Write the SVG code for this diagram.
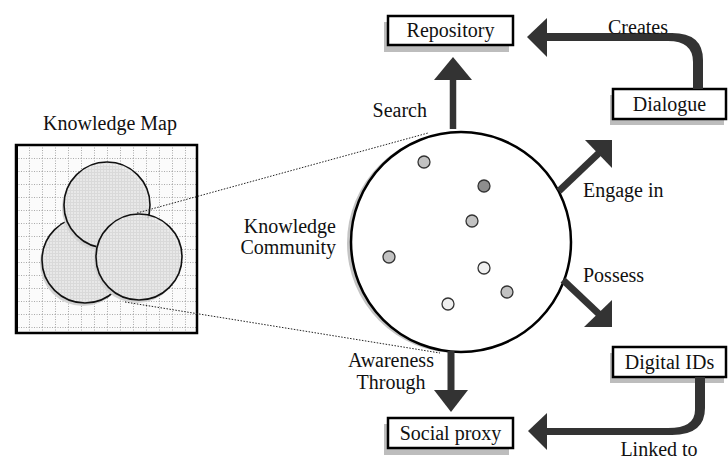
<svg xmlns="http://www.w3.org/2000/svg" width="728" height="459" viewBox="0 0 728 459" font-family="'Liberation Serif', 'Times New Roman', serif">
<style>
  text { font-family: "Liberation Serif", "Times New Roman", serif; font-size: 20px; fill: #111; }
  .box { fill: #fff; stroke: #000; stroke-width: 2.5; }
  .shadow { fill: #bdbdbd; }
  .shaft { stroke: #333; fill: none; }
  .head { fill: #333; }
  .dot { stroke: #333; stroke-width: 1.3; }
  .mapc { fill: url(#hatch); fill-opacity: 0.85; stroke: #111; stroke-width: 1.6; }
  .mapsh { fill: #d2d2d2; }
  .dotted { stroke: #222; stroke-width: 1; stroke-dasharray: 1.5 1.5; fill: none; }
</style>
<defs>
  <pattern id="grid" x="16" y="145" width="13" height="13" patternUnits="userSpaceOnUse">
    <rect width="13" height="13" fill="#fbfbfb"/>
    <path d="M0,0.5 H13 M0.5,0 V13" stroke="#aaa" stroke-width="1" stroke-dasharray="1 1.5"/>
  </pattern>
  <pattern id="hatch" width="3" height="3" patternUnits="userSpaceOnUse">
    <rect width="3" height="3" fill="#ececec"/>
    <path d="M0,1.5 H3 M1.5,0 V3" stroke="#dadada" stroke-width="1"/>
  </pattern>
</defs>

<g id="node-map">
  <text x="110" y="130" text-anchor="middle">Knowledge Map</text>
  <rect x="16" y="145" width="181" height="188" fill="url(#grid)" stroke="#000" stroke-width="2.5"/>
  <line x1="16.5" y1="145" x2="16.5" y2="333" stroke="#000" stroke-width="3"/>
  <circle class="mapsh" cx="83" cy="263" r="43"/>
  <circle class="mapc" cx="85" cy="260" r="43"/>
  <circle class="mapsh" cx="105" cy="208" r="43"/>
  <circle class="mapc" cx="107" cy="205" r="43"/>
  <circle class="mapsh" cx="137" cy="260" r="43"/>
  <circle class="mapc" cx="139" cy="257" r="43"/>
</g>

<g id="node-community">
  <circle cx="457" cy="243" r="110" fill="#c4c4c4"/>
  <circle cx="461" cy="242" r="110" fill="#fff" stroke="#000" stroke-width="2.5"/>
  <circle class="dot" cx="424" cy="162" r="6" fill="#c2c2c2"/>
  <circle class="dot" cx="484" cy="186" r="6" fill="#8e8e8e"/>
  <circle class="dot" cx="472" cy="221" r="6" fill="#c2c2c2"/>
  <circle class="dot" cx="389" cy="257" r="6" fill="#c2c2c2"/>
  <circle class="dot" cx="484" cy="268" r="6" fill="#f0f0f0"/>
  <circle class="dot" cx="507" cy="292" r="6" fill="#c2c2c2"/>
  <circle class="dot" cx="448" cy="304" r="6" fill="#f0f0f0"/>
  <text x="336" y="233" text-anchor="end">Knowledge</text>
  <text x="336" y="254" text-anchor="end">Community</text>
</g>

<g id="node-repository">
  <rect class="shadow" x="384" y="22" width="125" height="30"/>
  <rect class="box" x="388" y="16" width="125" height="29"/>
  <text x="450.5" y="37" text-anchor="middle">Repository</text>
</g>

<g id="node-dialogue">
  <rect class="shadow" x="610" y="95" width="114" height="30"/>
  <rect class="box" x="613" y="89" width="113" height="30"/>
  <text x="669.5" y="111" text-anchor="middle">Dialogue</text>
</g>

<g id="node-digital-ids">
  <rect class="shadow" x="610" y="353" width="114" height="30"/>
  <rect class="box" x="613" y="347" width="113" height="30"/>
  <text x="669.5" y="369" text-anchor="middle">Digital IDs</text>
</g>

<g id="node-social-proxy">
  <rect class="shadow" x="384" y="424" width="125" height="31"/>
  <rect class="box" x="388" y="418" width="125" height="30"/>
  <text x="450.5" y="440" text-anchor="middle">Social proxy</text>
</g>

<g id="connectors">
  <line class="dotted" x1="137" y1="213" x2="428" y2="133"/>
  <line class="dotted" x1="125" y1="302" x2="440" y2="353"/>

  <line class="shaft" x1="453" y1="129" x2="453" y2="79" stroke-width="6.5"/>
  <polygon class="head" points="434,80 472,80 453,57"/>
  <text x="427" y="117" text-anchor="end">Search</text>

  <path class="head" d="M703,89 L703,60 Q703,33 672,33 L545,33 L545,41 L668,41 Q693,41 693,62 L693,89 Z"/>
  <polygon class="head" points="547,18 547,57 527,37"/>
  <text x="638" y="34" text-anchor="middle">Creates</text>

  <line class="shaft" x1="559" y1="191" x2="600" y2="152" stroke-width="7"/>
  <polygon class="head" points="612,140 585,140 612,168"/>
  <text x="583" y="197">Engage in</text>

  <line class="shaft" x1="563" y1="280" x2="600" y2="315" stroke-width="7"/>
  <polygon class="head" points="612,327 612,300 584,327"/>
  <text x="583" y="282">Possess</text>

  <line class="shaft" x1="451" y1="351" x2="451" y2="391" stroke-width="7"/>
  <polygon class="head" points="434,390 468,390 451,412"/>
  <text x="391" y="367" text-anchor="middle">Awareness</text>
  <text x="391" y="389" text-anchor="middle">Through</text>

  <path class="head" d="M695,377 L695,410 Q695,428 668,428 L545,428 L545,435 L672,435 Q705,435 705,408 L705,377 Z"/>
  <polygon class="head" points="547,413 547,450 528,431"/>
  <text x="659" y="456" text-anchor="middle">Linked to</text>
</g>
</svg>
